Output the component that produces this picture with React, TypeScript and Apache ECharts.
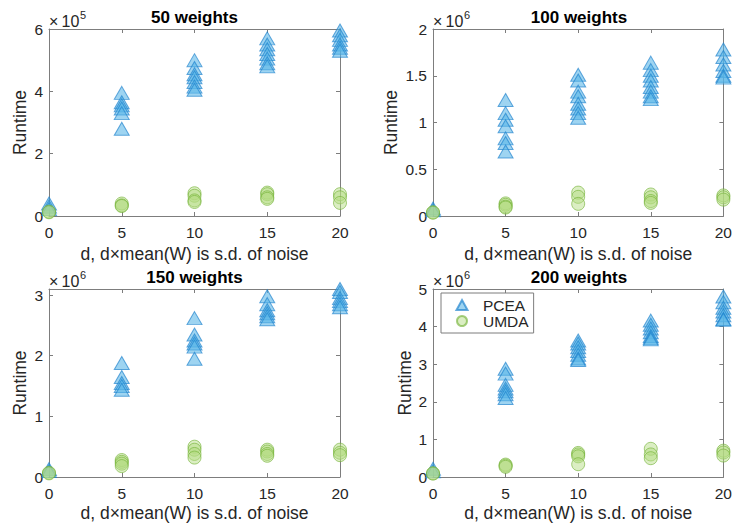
import React, { useEffect, useRef } from "react";
import * as echarts from "echarts";

// noise levels d on the x axis
const dValues = [0, 5, 10, 15, 20];

// runtimes per noise level, one inner list per d value
const pcea50 = [
  [40000, 30000, 22000],
  [395000, 365000, 355000, 345000, 330000, 280000],
  [500000, 475000, 455000, 445000, 430000, 415000, 405000],
  [570000, 550000, 535000, 520000, 505000, 490000, 480000],
  [595000, 580000, 565000, 550000, 540000, 530000],
];
const umda50 = [
  [14000, 12000],
  [40000, 34000, 32000],
  [73000, 65000, 50000, 45000],
  [75000, 70000, 60000, 55000],
  [70000, 60000, 42000],
];

const pcea100 = [
  [80000, 60000],
  [1240000, 1100000, 1030000, 960000, 830000, 780000, 690000],
  [1510000, 1450000, 1330000, 1280000, 1200000, 1150000, 1100000, 1050000],
  [1640000, 1560000, 1500000, 1450000, 1380000, 1330000, 1280000, 1250000],
  [1780000, 1700000, 1620000, 1550000, 1500000, 1480000],
];
const umda100 = [
  [40000, 35000],
  [135000, 120000, 100000, 90000],
  [250000, 205000, 130000],
  [230000, 200000, 160000, 140000],
  [220000, 200000, 175000],
];

const pcea150 = [
  [130000, 100000],
  [1880000, 1650000, 1550000, 1500000, 1440000],
  [2620000, 2350000, 2250000, 2200000, 2150000, 1950000],
  [2980000, 2850000, 2750000, 2700000, 2650000, 2600000],
  [3100000, 3050000, 2950000, 2900000, 2850000, 2800000],
];
const umda150 = [
  [70000, 60000],
  [280000, 250000, 220000, 180000],
  [500000, 450000, 380000, 320000],
  [450000, 420000, 380000, 350000],
  [450000, 400000, 360000],
];

const pcea200 = [
  [220000, 150000],
  [2880000, 2750000, 2450000, 2350000, 2280000, 2200000, 2100000],
  [3630000, 3550000, 3450000, 3350000, 3250000, 3150000, 3110000],
  [4160000, 4050000, 3950000, 3850000, 3750000, 3700000, 3660000],
  [4800000, 4650000, 4500000, 4400000, 4300000, 4200000, 4180000],
];
const umda200 = [
  [100000, 90000],
  [330000, 300000, 270000],
  [640000, 600000, 550000, 340000],
  [750000, 600000, 500000],
  [700000, 650000, 570000],
];

const panelTitles = ["50 weights", "100 weights", "150 weights", "200 weights"];
const exponents = [5, 6, 6, 6];
const yMax = [600000, 2000000, 3100000, 5000000];
const yTicks = [
  [0, 200000, 400000, 600000],
  [0, 500000, 1000000, 1500000, 2000000],
  [0, 1000000, 2000000, 3000000],
  [0, 1000000, 2000000, 3000000, 4000000, 5000000],
];
const xLabel = "d, d\u00d7mean(W) is s.d. of noise";
const yLabel = "Runtime";
const seriesNames = ["PCEA", "UMDA"];

const pceaData = [pcea50, pcea100, pcea150, pcea200];
const umdaData = [umda50, umda100, umda150, umda200];

const FONT = "'Liberation Sans', Arial, Helvetica, sans-serif";
const AXIS_COLOR = "#7d7d7d";
const TEXT_COLOR = "#262626";

// axes rectangles in page pixels
const grids = [
  { left: 49, top: 29, width: 291, height: 187 },
  { left: 433, top: 29, width: 292, height: 187 },
  { left: 49, top: 289, width: 291, height: 188 },
  { left: 433, top: 289, width: 292, height: 188 },
];
// distance from the left axis line to the "Runtime" label, per panel
const yNameGaps = [20.5, 33.5, 20.5, 19.5];
const xNameGaps = [29, 29, 27, 27];

const toPoints = (groups: number[][]) =>
  dValues.flatMap((d, i) => groups[i].map((v) => [d, v]));

function buildOption() {
  const xAxis: any[] = [];
  const yAxis: any[] = [];
  const series: any[] = [];
  const title: any[] = [];
  const graphic: any[] = [];

  grids.forEach((g, i) => {
    const line = { show: true, onZero: false, lineStyle: { color: AXIS_COLOR, width: 1 } };
    const tick = { show: true, inside: true, length: 4, lineStyle: { color: AXIS_COLOR } };
    xAxis.push({
      type: "value",
      gridIndex: i,
      min: 0,
      max: 20,
      interval: 5,
      position: "bottom",
      axisLine: line,
      axisTick: tick,
      splitLine: { show: false },
      axisLabel: { color: TEXT_COLOR, fontSize: 15.5, fontFamily: FONT, margin: 8 },
      name: xLabel,
      nameLocation: "middle",
      nameGap: xNameGaps[i],
      nameTextStyle: { color: TEXT_COLOR, fontSize: 17.5, fontFamily: FONT },
    });
    xAxis.push({
      type: "value",
      gridIndex: i,
      min: 0,
      max: 20,
      interval: 5,
      position: "top",
      axisLine: line,
      axisTick: tick,
      splitLine: { show: false },
      axisLabel: { show: false },
    });
    const fmt = (v: number) => {
      const s = v / Math.pow(10, exponents[i]);
      return String(Math.round(s * 100) / 100);
    };
    yAxis.push({
      type: "value",
      gridIndex: i,
      min: 0,
      max: yMax[i],
      position: "left",
      axisLine: line,
      axisTick: { ...tick, customValues: yTicks[i] },
      splitLine: { show: false },
      axisLabel: {
        color: TEXT_COLOR,
        fontSize: 15.5,
        fontFamily: FONT,
        margin: 6,
        customValues: yTicks[i],
        formatter: fmt,
      },
      name: yLabel,
      nameLocation: "middle",
      nameGap: yNameGaps[i],
      nameRotate: 90,
      nameTextStyle: { color: TEXT_COLOR, fontSize: 17.5, fontFamily: FONT },
    });
    yAxis.push({
      type: "value",
      gridIndex: i,
      min: 0,
      max: yMax[i],
      position: "right",
      axisLine: line,
      axisTick: { ...tick, customValues: yTicks[i] },
      splitLine: { show: false },
      axisLabel: { show: false },
    });

    series.push({
      type: "scatter",
      name: seriesNames[0],
      xAxisIndex: i * 2,
      yAxisIndex: i * 2,
      symbol: "triangle",
      symbolSize: [15, 13],
      clip: false,
      itemStyle: {
        color: "rgba(86, 180, 230, 0.72)",
        borderColor: "rgba(30, 130, 205, 0.85)",
        borderWidth: 1,
      },
      data: toPoints(pceaData[i]),
      z: 3,
    });
    series.push({
      type: "scatter",
      name: seriesNames[1],
      xAxisIndex: i * 2,
      yAxisIndex: i * 2,
      symbol: "circle",
      symbolSize: 13,
      clip: false,
      itemStyle: {
        color: "rgba(180, 220, 130, 0.6)",
        borderColor: "rgba(115, 178, 55, 0.8)",
        borderWidth: 1,
      },
      data: toPoints(umdaData[i]),
      z: 4,
    });

    title.push({
      text: panelTitles[i],
      left: g.left + g.width / 2,
      top: g.top - 20,
      textAlign: "center",
      textStyle: { fontSize: 17, fontWeight: "bold", color: "#000", fontFamily: FONT },
      padding: 0,
    });

    // axis exponent: ×10 with a raised power
    graphic.push({
      type: "text",
      left: g.left,
      top: g.top - 16,
      style: { text: "\u00d7\u200910", fontSize: 16, fill: TEXT_COLOR, fontFamily: FONT },
    });
    graphic.push({
      type: "text",
      left: g.left + 31,
      top: g.top - 20,
      style: { text: String(exponents[i]), fontSize: 11, fill: TEXT_COLOR, fontFamily: FONT },
    });
  });

  return {
    animation: false,
    backgroundColor: "#fff",
    textStyle: { fontFamily: FONT },
    grid: grids.map((g) => ({ ...g, containLabel: false })),
    xAxis,
    yAxis,
    series,
    title,
    graphic,
    legend: {
      data: seriesNames,
      orient: "vertical",
      left: 441,
      top: 293,
      padding: [4, 5, 4, 14.5],
      itemGap: 0,
      itemWidth: 11,
      itemHeight: 10,
      backgroundColor: "#fff",
      borderColor: AXIS_COLOR,
      borderWidth: 1,
      selectedMode: false,
      formatter: (n: string) => "{s|}" + n,
      textStyle: {
        fontSize: 15.5,
        color: TEXT_COLOR,
        fontFamily: FONT,
        lineHeight: 15,
        rich: { s: { width: 10.5 } },
      },
    },
  };
}

export default function App() {
  const ref = useRef<HTMLDivElement>(null);
  useEffect(() => {
    if (!ref.current) return;
    const chart = echarts.init(ref.current, null, { renderer: "svg" });
    chart.setOption(buildOption() as any);
    return () => chart.dispose();
  }, []);
  return <div ref={ref} style={{ width: 735, height: 525, position: "absolute", left: 0, top: 0 }} />;
}
